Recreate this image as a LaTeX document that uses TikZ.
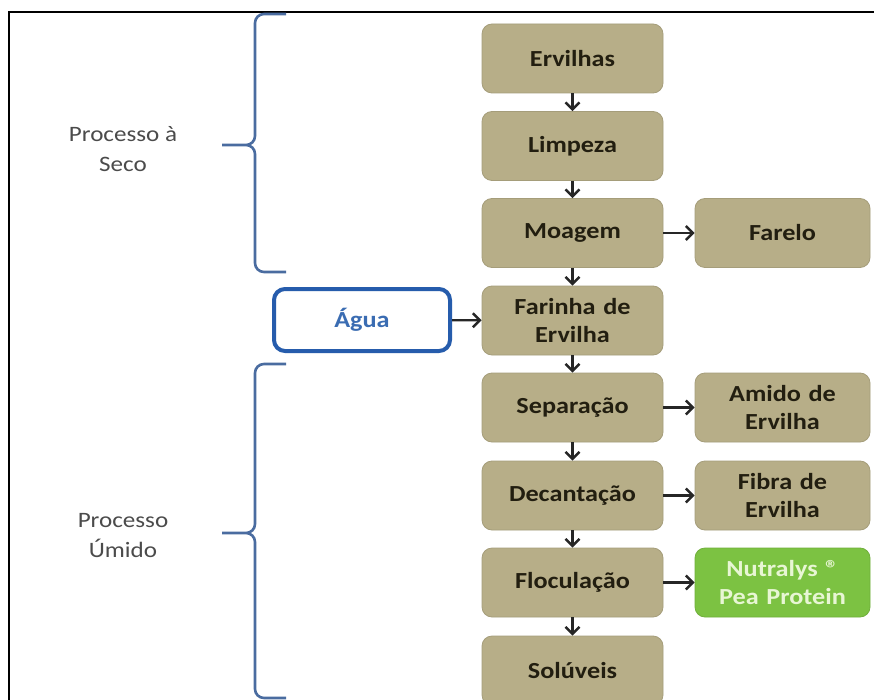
\documentclass[tikz,border=0pt]{standalone}
\usepackage{fontspec}
\setmainfont{Carlito}[FakeStretch=1.14]
\usetikzlibrary{arrows.meta}
\definecolor{khaki}{RGB}{183,174,136}
\definecolor{khakiedge}{RGB}{165,157,122}
\definecolor{boxtext}{RGB}{34,30,16}
\definecolor{peagreen}{RGB}{124,194,66}
\definecolor{peatext}{RGB}{232,246,212}
\definecolor{aguablue}{RGB}{38,92,172}
\definecolor{aguatext}{RGB}{58,108,178}
\definecolor{bracecol}{RGB}{74,108,160}
\definecolor{labelgray}{RGB}{75,75,75}
\tikzset{
  procbox/.style={draw=khakiedge, line width=0.8pt, fill=khaki, rounded corners=10pt,
    minimum width=181pt, minimum height=69pt, text width=170pt, align=center,
    font=\fontsize{23pt}{28pt}\selectfont\bfseries, text=boxtext, inner sep=0pt},
  outbox/.style={procbox, minimum width=175pt, text width=165pt},
  greenbox/.style={outbox, fill=peagreen, draw=peagreen!90!black, text=peatext},
  aguabox/.style={draw=aguablue, line width=4pt, fill=white, rounded corners=11pt,
    minimum width=176pt, minimum height=62pt, inner sep=0pt,
    font=\fontsize{23pt}{28pt}\selectfont\bfseries, text=aguatext},
  flow/.style={draw=black!85, line width=2.4pt, -{Straight Barb[length=7pt,width=14pt,line width=2.4pt]}},
  brace/.style={draw=bracecol, line width=2.6pt},
  sidelabel/.style={align=center, font=\fontsize{22pt}{30pt}\selectfont, text=labelgray}
}
\begin{document}
\begin{tikzpicture}[x=1pt,y=-1pt]
\useasboundingbox (0,0) rectangle (874,700);
\clip (0,0) rectangle (874,700);
\fill[white] (0,0) rectangle (874,700);
% frame
\draw[black, line width=2pt] (9,720) -- (9,12) -- (890,12);
% main column
\node[procbox] (erv) at (572.5,58.5) {Ervilhas};
\node[procbox] (lim) at (572.5,146) {Limpeza};
\node[procbox] (moa) at (572.5,233) {Moagem};
\node[procbox] (far) at (572.5,320.5) {Farinha de\\Ervilha};
\node[procbox] (sep) at (572.5,407.5) {Separação};
\node[procbox] (dec) at (572.5,495.5) {Decantação};
\node[procbox] (flo) at (572.5,582.5) {Floculação};
\node[procbox] (sol) at (572.5,670.5) {Solúveis};
% right column
\node[outbox] (fare) at (782.5,233) {Farelo};
\node[outbox] (ami) at (782.5,407.5) {Amido de\\Ervilha};
\node[outbox] (fib) at (782.5,495.5) {Fibra de\\Ervilha};
\node[greenbox] (nut) at (782.5,582.5) {Nutralys ®\\Pea Protein};
% agua
\node[aguabox] (agua) at (362,320) {Água};
% arrows
\draw[flow] (erv) -- (lim);
\draw[flow] (lim) -- (moa);
\draw[flow] (moa) -- (far);
\draw[flow] (far) -- (sep);
\draw[flow] (sep) -- (dec);
\draw[flow] (dec) -- (flo);
\draw[flow] (flo) -- (sol);
\draw[flow] (moa) -- (fare);
\draw[flow] (sep) -- (ami);
\draw[flow] (dec) -- (fib);
\draw[flow] (flo) -- (nut);
\draw[flow] (agua) -- (far);
% braces
\draw[brace] (286,14) -- (264,14) to[out=180,in=90] (255,23) -- (255,136) to[out=-90,in=0] (246,145) -- (222,145)
  (246,145) to[out=0,in=90] (255,154) -- (255,263) to[out=-90,in=180] (264,272) -- (286,272);
\draw[brace] (286,364) -- (264,364) to[out=180,in=90] (255,373) -- (255,524) to[out=-90,in=0] (246,533) -- (222,533)
  (246,533) to[out=0,in=90] (255,542) -- (255,689) to[out=-90,in=180] (264,698) -- (286,698);
% labels
\node[sidelabel] (seco) at (123,149) {Processo à\\Seco};
\node[sidelabel] (umido) at (123,536) {Processo\\Úmido};
\end{tikzpicture}
\end{document}
